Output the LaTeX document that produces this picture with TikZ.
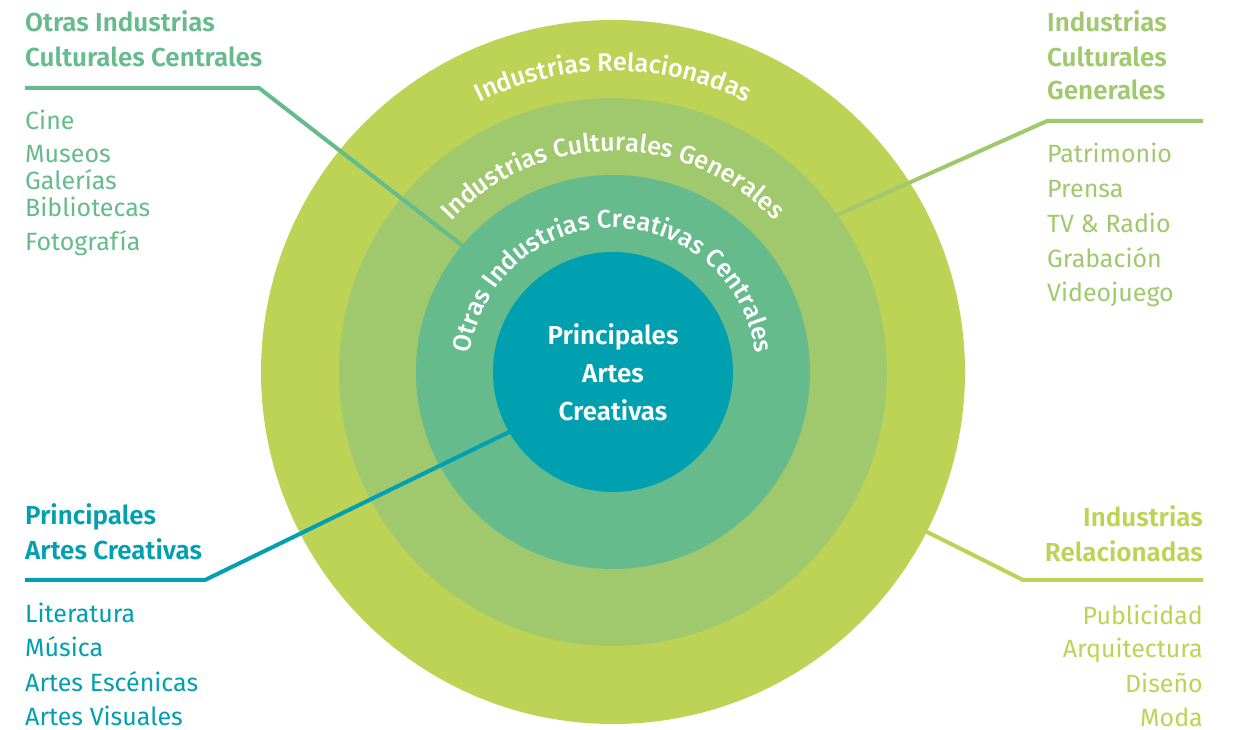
\documentclass[tikz,border=0pt]{standalone}
\usepackage{fontspec}
\setmainfont{Fira Sans}[BoldFont={Fira Sans SemiBold}]
\newfontfamily\ringfont{Fira Sans Medium}
\usetikzlibrary{decorations.text}

\definecolor{coreteal}{RGB}{0,160,176}
\definecolor{creagreen}{RGB}{102,187,140}
\definecolor{culgreen}{RGB}{160,201,110}
\definecolor{relgreen}{RGB}{189,211,86}

\tikzset{
  ring/.style={circle, inner sep=0pt, outer sep=0pt, minimum size=#1},
  head/.style={font=\bfseries\fontsize{26}{30}\selectfont, inner sep=0pt},
  item/.style={font=\fontsize{25}{30}\selectfont, inner sep=0pt},
  leader/.style={line width=4pt},
  ringtext/.style={decorate, decoration={text along path, text align=center,
      text color=white, text={|\ringfont\fontsize{25.3}{25}\selectfont|#1}}},
}

\begin{document}
\begin{tikzpicture}[x=1pt,y=1pt]

\newcommand\CX{613}
\newcommand\CY{358}

  \fill[white] (0,0) rectangle (1236,730);

  %% rings, outside in
  \node[ring=704pt, fill=relgreen] (outer) at (\CX,\CY) {};
  \node[ring=548pt, fill=culgreen] (general) at (\CX,\CY) {};
  \node[ring=394pt, fill=creagreen] (creative) at (\CX,\CY) {};
  \node[ring=240pt, fill=coreteal, text=white, align=center,
    font=\bfseries\fontsize{26}{38}\selectfont] (core) at (\CX,\CY)
    {Principales\\Artes\\Creativas};

  %% ring names
  \path[ringtext={Industrias Relacionadas}]
  (core.center) ++(160:301) arc[start angle=160, end angle=20, radius=301];
  \path[ringtext={Industrias Culturales Generales}]
  (core.center) ++(180:221) arc[start angle=180, end angle=0, radius=221];
  \path[ringtext={Otras Industrias Creativas Centrales}]
  (core.center) ++(200:144) arc[start angle=200, end angle=-20, radius=144];

  %% leaders
  \coordinate (tlstart) at (25,642);
  \coordinate (tlbend) at (259,642);
  \coordinate (trstart) at (1203,609);
  \coordinate (trbend) at (1047,609);
  \coordinate (blstart) at (25,150);
  \coordinate (blbend) at (205,150);
  \coordinate (brstart) at (1203,150);
  \coordinate (brbend) at (1023,150);
  \draw[leader, creagreen] (tlstart) -- (tlbend) -- (creative.140);
  \draw[leader, culgreen] (trstart) -- (trbend) -- (general.35);
  \draw[leader, coreteal] (blstart) -- (blbend) -- (core.210);
  \draw[leader, relgreen] (brstart) -- (brbend) -- (outer.-27);

  %% top left
  \node[head, creagreen, anchor=base west] (tlhead1) at (25,698) {Otras Industrias};
  \node[head, creagreen, anchor=base west] (tlhead2) at (25,663) {Culturales Centrales};
  \node[item, creagreen, anchor=base west] (cine) at (25,600) {Cine};
  \node[item, creagreen, anchor=base west] (museos) at (25,567) {Museos};
  \node[item, creagreen, anchor=base west] (galerias) at (25,540) {Galerías};
  \node[item, creagreen, anchor=base west] (bibliotecas) at (25,513) {Bibliotecas};
  \node[item, creagreen, anchor=base west] (fotografia) at (25,479) {Fotografía};

  %% top right
  \node[head, culgreen, anchor=base west] (trhead1) at (1047,698) {Industrias};
  \node[head, culgreen, anchor=base west] (trhead2) at (1047,663) {Culturales};
  \node[head, culgreen, anchor=base west] (trhead3) at (1047,630) {Generales};
  \node[item, culgreen, anchor=base west] (patrimonio) at (1047,567) {Patrimonio};
  \node[item, culgreen, anchor=base west] (prensa) at (1047,532) {Prensa};
  \node[item, culgreen, anchor=base west] (tvradio) at (1047,497) {TV \& Radio};
  \node[item, culgreen, anchor=base west] (grabacion) at (1047,462) {Grabación};
  \node[item, culgreen, anchor=base west] (videojuego) at (1047,428) {Videojuego};

  %% bottom left
  \node[head, coreteal, anchor=base west] (blhead1) at (25,205) {Principales};
  \node[head, coreteal, anchor=base west] (blhead2) at (25,170) {Artes Creativas};
  \node[item, coreteal, anchor=base west] (literatura) at (25,107) {Literatura};
  \node[item, coreteal, anchor=base west] (musica) at (25,73) {Música};
  \node[item, coreteal, anchor=base west] (escenicas) at (25,38) {Artes Escénicas};
  \node[item, coreteal, anchor=base west] (visuales) at (25,4) {Artes Visuales};

  %% bottom right
  \node[head, relgreen, anchor=base east] (brhead1) at (1203,203) {Industrias};
  \node[head, relgreen, anchor=base east] (brhead2) at (1203,168) {Relacionadas};
  \node[item, relgreen, anchor=base east] (publicidad) at (1203,105) {Publicidad};
  \node[item, relgreen, anchor=base east] (arquitectura) at (1203,72) {Arquitectura};
  \node[item, relgreen, anchor=base east] (diseno) at (1203,37) {Diseño};
  \node[item, relgreen, anchor=base east] (moda) at (1203,3) {Moda};

\end{tikzpicture}
\end{document}
